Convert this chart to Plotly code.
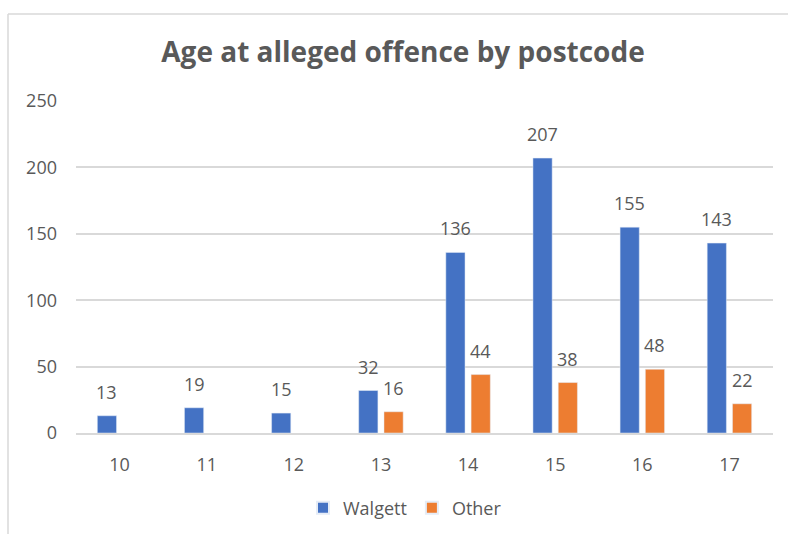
import plotly.graph_objects as go

categories = ["10", "11", "12", "13", "14", "15", "16", "17"]
walgett = [13, 19, 15, 32, 136, 207, 155, 143]
other = [None, None, None, 16, 44, 38, 48, 22]
y_ticks = [0, 50, 100, 150, 200, 250]

FONT = "Open Sans"
GRAY = "#595959"
GRID = "#D9D9D9"

L, R, T, B = 76, 15, 101, 101
W, H = 788, 534
pw, ph = W - L - R, H - T - B
BARGAP, GROUPGAP = 0.42, 0.24
cat_w = pw / len(categories)
slot = cat_w * (1 - BARGAP) / 2


def px(x):
    return (x - L) / pw


def py(y):
    return (H - B - y) / ph


fig = go.Figure()
fig.add_trace(go.Bar(x=categories, y=walgett, name="Walgett", marker=dict(color="#4472C4")))
fig.add_trace(go.Bar(x=categories, y=other, name="Other", marker=dict(color="#ED7D31")))

annotations = []
for series, sign in ((walgett, -1), (other, 1)):
    for i, v in enumerate(series):
        if v is None:
            continue
        annotations.append(dict(
            x=i, y=v, xref="x", yref="y", text=str(v), showarrow=False,
            xanchor="center", yanchor="bottom", xshift=sign * slot / 2, yshift=10,
            font=dict(family=FONT, size=18, color=GRAY),
        ))

fig.update_layout(
    width=W, height=H,
    margin=dict(l=L, r=R, t=T, b=B, pad=0, autoexpand=False),
    paper_bgcolor="white", plot_bgcolor="white",
    barmode="group", bargap=BARGAP, bargroupgap=GROUPGAP,
    title=dict(
        text="<b>Age at alleged offence by postcode</b>",
        font=dict(family=FONT, size=28, color=GRAY),
        x=403 / W, xanchor="center", xref="container",
        y=1 - 52 / H, yanchor="middle", yref="container", automargin=False,
    ),
    font=dict(family=FONT, color=GRAY),
    xaxis=dict(
        type="category", range=[-0.5, len(categories) - 0.5],
        showgrid=False, showline=True, linecolor=GRID, linewidth=1.5,
        ticks="", tickfont=dict(family=FONT, size=18, color=GRAY), ticklabelstandoff=15,
        automargin=False,
    ),
    yaxis=dict(
        range=[0, 250], tickvals=y_ticks, showgrid=True, gridcolor=GRID, gridwidth=1.5,
        zeroline=False, showline=False, ticks="",
        tickfont=dict(family=FONT, size=18, color=GRAY), ticklabelstandoff=18,
        automargin=False,
    ),
    legend=dict(
        orientation="h", x=405 / W, xref="container", xanchor="center",
        y=1 - 508 / H, yref="container", yanchor="middle",
        font=dict(family=FONT, size=18, color=GRAY), itemsizing="constant",
        itemwidth=30,
    ),
    showlegend=True,
    annotations=annotations,
    shapes=[
        dict(type="line", xref="paper", yref="paper", x0=px(8), x1=px(800), y0=py(14), y1=py(14),
             line=dict(color=GRID, width=1.5)),
        dict(type="line", xref="paper", yref="paper", x0=px(8), x1=px(8), y0=py(14), y1=py(540),
             line=dict(color=GRID, width=1.5)),
    ],
)

fig.write_html("out.html", config={"displayModeBar": False},
               post_script="document.body.style.margin='0';")
